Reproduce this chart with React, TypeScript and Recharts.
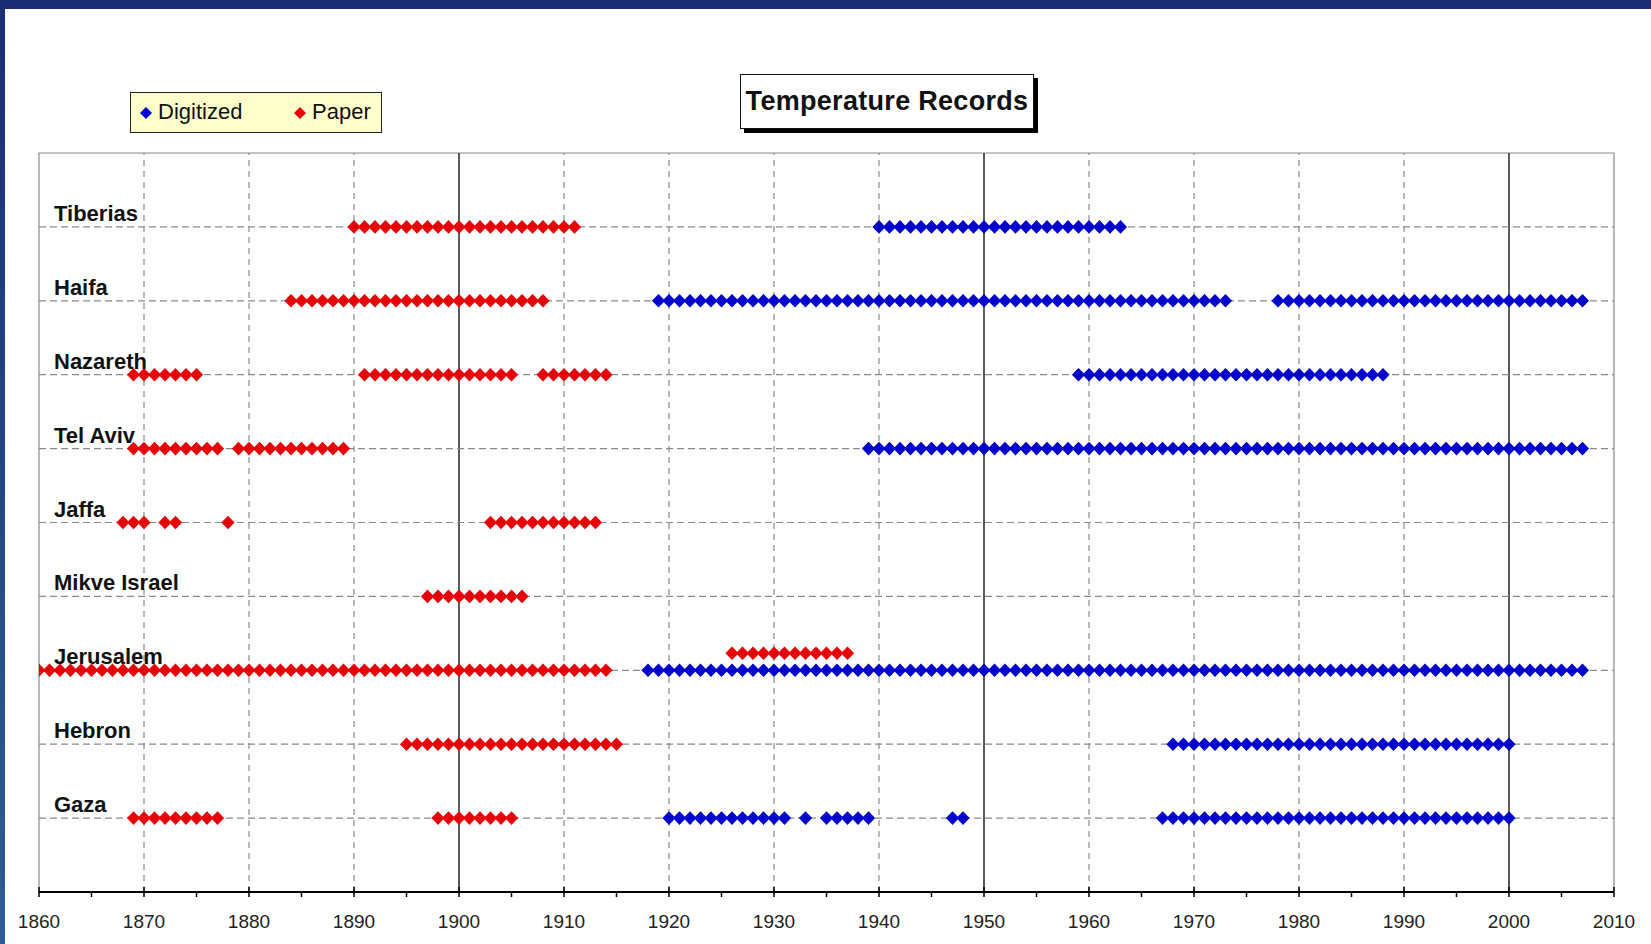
import React from "react";
import {
  ScatterChart,
  Scatter,
  XAxis,
  YAxis,
  ReferenceLine,
  ReferenceArea,
} from "recharts";

// station rows, top to bottom
const stations = ["Tiberias", "Haifa", "Nazareth", "Tel Aviv", "Jaffa", "Mikve Israel", "Jerusalem", "Hebron", "Gaza"];
const stationRows = [9, 8, 7, 6, 5, 4, 3, 2, 1];

// runs of consecutive record years [first, last]
const tiberiasPaper = [[1890, 1911]];
const tiberiasDigitized = [[1940, 1963]];
const haifaPaper = [[1884, 1908]];
const haifaDigitized = [[1919, 1973], [1978, 2007]];
const nazarethPaper = [[1869, 1875], [1891, 1905], [1908, 1914]];
const nazarethDigitized = [[1959, 1988]];
const telAvivPaper = [[1869, 1877], [1879, 1889]];
const telAvivDigitized = [[1939, 2007]];
const jaffaPaper = [[1868, 1870], [1872, 1873], [1878, 1878], [1903, 1913]];
const mikvePaper = [[1897, 1906]];
const jerusalemPaper = [[1860, 1914]];
const jerusalemPaperLate = [[1926, 1937]]; // drawn just above the Jerusalem line
const jerusalemDigitized = [[1918, 2007]];
const hebronPaper = [[1895, 1915]];
const hebronDigitized = [[1968, 2000]];
const gazaPaper = [[1869, 1877], [1898, 1905]];
const gazaDigitized = [[1920, 1931], [1933, 1933], [1935, 1939], [1947, 1948], [1967, 2000]];

const jerusalemLateRow = 3.23;

// axis
const decadeTicks = [1860, 1870, 1880, 1890, 1900, 1910, 1920, 1930, 1940, 1950, 1960, 1970, 1980, 1990, 2000, 2010];
const minorTicks = [1865, 1875, 1885, 1895, 1905, 1915, 1925, 1935, 1945, 1955, 1965, 1975, 1985, 1995, 2005];
const solidYears = [1900, 1950, 2000];

const BLUE = "#0000cc";
const RED = "#e60008";
const FONT = "'Liberation Sans', Arial, sans-serif";

function toPoints(runs: number[][], row: number) {
  const pts: { x: number; y: number }[] = [];
  runs.forEach(([a, b]) => {
    for (let yr = a; yr <= b; yr++) pts.push({ x: yr, y: row });
  });
  return pts;
}

const paperPoints = [
  ...toPoints(tiberiasPaper, 9),
  ...toPoints(haifaPaper, 8),
  ...toPoints(nazarethPaper, 7),
  ...toPoints(telAvivPaper, 6),
  ...toPoints(jaffaPaper, 5),
  ...toPoints(mikvePaper, 4),
  ...toPoints(jerusalemPaper, 3),
  ...toPoints(jerusalemPaperLate, jerusalemLateRow),
  ...toPoints(hebronPaper, 2),
  ...toPoints(gazaPaper, 1),
];

const digitizedPoints = [
  ...toPoints(tiberiasDigitized, 9),
  ...toPoints(haifaDigitized, 8),
  ...toPoints(nazarethDigitized, 7),
  ...toPoints(telAvivDigitized, 6),
  ...toPoints(jerusalemDigitized, 3),
  ...toPoints(hebronDigitized, 2),
  ...toPoints(gazaDigitized, 1),
];

const allTicks = [...decadeTicks, ...minorTicks].sort((a, b) => a - b);

const Diamond = (color: string) => (props: any) => {
  const { cx, cy } = props;
  if (cx == null || cy == null) return null;
  const w = 6.6;
  const h = 6.8;
  return (
    <polygon
      points={`${cx},${cy - h} ${cx + w},${cy} ${cx},${cy + h} ${cx - w},${cy}`}
      fill={color}
    />
  );
};

const XTick = (props: any) => {
  const { x, y, payload } = props;
  const major = payload.value % 10 === 0;
  return (
    <g>
      <line x1={x} x2={x} y1={major ? y - 5 : y} y2={y + 5} stroke="#000" strokeWidth={1.5} />
      {major && (
        <text x={x} y={y + 36} textAnchor="middle" fontSize={19} fontFamily={FONT} fill="#222">
          {payload.value}
        </text>
      )}
    </g>
  );
};

const RowLabel = (props: any) => {
  const { viewBox, text } = props;
  if (!viewBox) return null;
  return (
    <text x={viewBox.x + 15} y={viewBox.y - 6} fontSize={22} fontWeight="bold" fontFamily={FONT} fill="#111">
      {text}
    </text>
  );
};

export default function App() {
  return (
    <div
      style={{
        position: "absolute",
        left: 0,
        top: 0,
        width: 1651,
        height: 944,
        background: "#fff",
        overflow: "hidden",
        fontFamily: FONT,
      }}
    >
      <div style={{ position: "absolute", left: 0, top: 0, width: 1651, height: 9, background: "#1b2d74" }} />
      <div
        style={{
          position: "absolute",
          left: 0,
          top: 0,
          width: 5,
          height: 944,
          background: "linear-gradient(#1b2d74, #2f5c98)",
        }}
      />

      <ScatterChart width={1651} height={944} margin={{ top: 153, right: 37, bottom: 12, left: 39 }}>
        <ReferenceArea x1={1860} x2={2010} y1={0} y2={10} fill="none" stroke="#8a8a8a" strokeWidth={1.2} />
        {decadeTicks
          .filter((d) => d > 1860 && d < 2010 && !solidYears.includes(d))
          .map((d) => (
            <ReferenceLine key={d} x={d} stroke="#8a8a8a" strokeDasharray="6 5" strokeWidth={1.2} />
          ))}
        {solidYears.map((d) => (
          <ReferenceLine key={d} x={d} stroke="#333" strokeWidth={1.6} />
        ))}
        {stations.map((s, i) => (
          <ReferenceLine
            key={s}
            y={stationRows[i]}
            stroke="#8a8a8a"
            strokeDasharray="7 4"
            strokeWidth={1.2}
            label={<RowLabel text={s} />}
          />
        ))}
        <XAxis
          type="number"
          dataKey="x"
          domain={[1860, 2010]}
          ticks={allTicks}
          interval={0}
          allowDataOverflow
          height={40}
          tickSize={0}
          tickMargin={0}
          tickLine={false}
          axisLine={{ stroke: "#000", strokeWidth: 2 }}
          tick={<XTick />}
        />
        <YAxis type="number" dataKey="y" domain={[0, 10]} hide />
        <Scatter name="Paper" data={paperPoints} shape={Diamond(RED)} isAnimationActive={false} />
        <Scatter name="Digitized" data={digitizedPoints} shape={Diamond(BLUE)} isAnimationActive={false} />
      </ScatterChart>

      {/* legend */}
      <div
        style={{
          position: "absolute",
          left: 130,
          top: 92,
          width: 250,
          height: 39,
          background: "#ffffcc",
          border: "1.5px solid #222",
          fontSize: 22,
          color: "#111",
        }}
      >
        <svg width={12} height={12} style={{ position: "absolute", left: 9, top: 14 }}>
          <polygon points="6,0 12,6 6,12 0,6" fill={BLUE} />
        </svg>
        <span style={{ position: "absolute", left: 27, top: 6 }}>Digitized</span>
        <svg width={12} height={12} style={{ position: "absolute", left: 163, top: 14 }}>
          <polygon points="6,0 12,6 6,12 0,6" fill={RED} />
        </svg>
        <span style={{ position: "absolute", left: 181, top: 6 }}>Paper</span>
      </div>

      {/* title */}
      <div
        style={{
          position: "absolute",
          left: 740,
          top: 74,
          width: 292,
          height: 53,
          background: "#fff",
          border: "1.5px solid #111",
          boxShadow: "4px 4px 0 #000",
          fontSize: 27,
          fontWeight: "bold",
          color: "#111",
          display: "flex",
          alignItems: "center",
          justifyContent: "center",
          letterSpacing: 0.3,
        }}
      >
        Temperature Records
      </div>
    </div>
  );
}
